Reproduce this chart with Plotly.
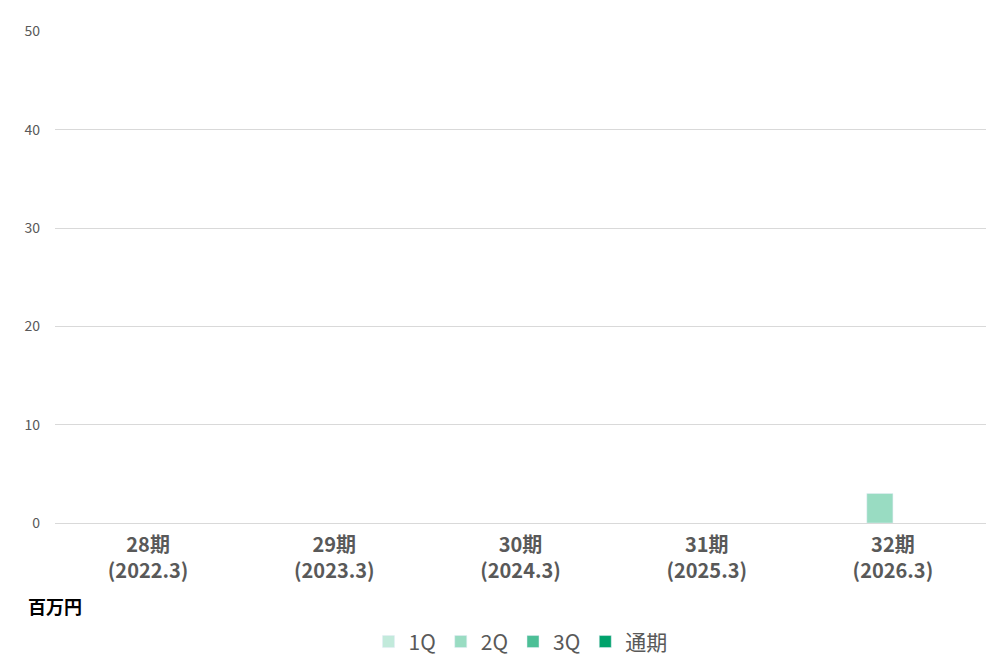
import plotly.graph_objects as go

categories = ["<b>28期</b><br><b>(2022.3)</b>", "<b>29期</b><br><b>(2023.3)</b>", "<b>30期</b><br><b>(2024.3)</b>",
              "<b>31期</b><br><b>(2025.3)</b>", "<b>32期</b><br><b>(2026.3)</b>"]
series_names = ["1Q", "2Q", "3Q", "通期"]
q1 = [None, None, None, None, None]
q2 = [None, None, None, None, 3]
q3 = [None, None, None, None, None]
full_year = [None, None, None, None, None]
colors = ["#c2eadb", "#99dcc2", "#4cbf96", "#00a26b"]

fig = go.Figure()
for name, vals, c in zip(series_names, [q1, q2, q3, full_year], colors):
    fig.add_trace(go.Bar(x=categories, y=vals, name=name, marker_color=c))

font = "Noto Sans CJK JP"
fig.update_layout(
    width=1000, height=667, barmode="group", bargap=0.44, bargroupgap=0,
    plot_bgcolor="white", paper_bgcolor="white",
    margin=dict(l=47, r=22, t=21, b=145),
    font=dict(family=font, color="#595959"),
    legend=dict(orientation="h", x=0.5, xanchor="center", y=-0.2, yanchor="top",
                font=dict(size=21, color="#595959"), itemwidth=30),
    annotations=[dict(text="<b>百万円</b>", x=0.0, xref="paper", xanchor="left", xshift=-29,
                      y=0, yref="paper", yanchor="top", yshift=-68,
                      showarrow=False, font=dict(size=18, color="black"))],
)
fig.update_xaxes(showline=True, linecolor="#d9d9d9", tickfont=dict(size=20, color="#595959"),
                 ticklabelstandoff=4)
fig.update_yaxes(range=[0, 50.05], dtick=10, gridcolor="#d9d9d9", zeroline=False,
                 tickfont=dict(size=14, color="#595959"), ticklabelstandoff=14)
fig.write_html("out.html")
